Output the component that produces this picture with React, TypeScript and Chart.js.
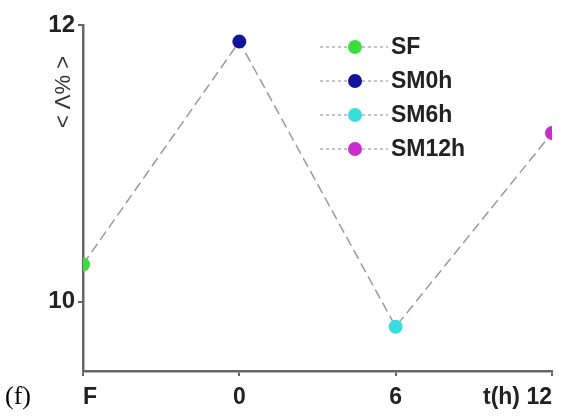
import React, { useEffect, useRef } from "react";
import { Chart, registerables } from "chart.js";

Chart.register(...registerables);

const categories = ["F", "0", "6", "t(h) 12"];
const seriesNames = ["SF", "SM0h", "SM6h", "SM12h"];
const values = [10.27, 11.88, 9.82, 11.22];
const pointColors = ["#3ddc3d", "#14149a", "#38dede", "#cc2ccc"];
const yTickValues = [10, 12];

const SANS = "'Liberation Sans', Arial, sans-serif";

const extrasPlugin = {
  id: "extras",
  afterDraw(chart: any) {
    const ctx = chart.ctx;
    const area = chart.chartArea;
    ctx.save();
    // y-axis title
    ctx.translate(area.left - 19, area.top + 67);
    ctx.rotate(-Math.PI / 2);
    ctx.fillStyle = "#333";
    ctx.font = `22px ${SANS}`;
    ctx.textAlign = "center";
    ctx.textBaseline = "middle";
    ctx.fillText("< Λ% >", 0, 0);
    ctx.restore();

    // legend
    ctx.save();
    const startY = 47;
    const step = 34;
    seriesNames.forEach((name, i) => {
      const y = startY + i * step;
      ctx.strokeStyle = "#b0b0b0";
      ctx.lineWidth = 1.5;
      ctx.setLineDash([3, 3]);
      ctx.beginPath();
      ctx.moveTo(320, y);
      ctx.lineTo(388, y);
      ctx.stroke();
      ctx.setLineDash([]);
      ctx.fillStyle = pointColors[i];
      ctx.beginPath();
      ctx.arc(355, y, 7, 0, Math.PI * 2);
      ctx.fill();
      ctx.fillStyle = "#222";
      ctx.font = `bold 23px ${SANS}`;
      ctx.textAlign = "left";
      ctx.textBaseline = "middle";
      ctx.fillText(name, 391, y + 1);
    });
    ctx.restore();

    // panel label
    ctx.save();
    ctx.fillStyle = "#000";
    ctx.font = "26px 'Liberation Serif', 'Times New Roman', serif";
    ctx.textAlign = "left";
    ctx.textBaseline = "alphabetic";
    ctx.fillText("(f)", 5, 404);
    ctx.restore();
  },
};

export default function App() {
  const ref = useRef<HTMLCanvasElement | null>(null);
  useEffect(() => {
    if (!ref.current) return;
    const chart = new Chart(ref.current, {
      type: "line",
      data: {
        datasets: [
          {
            data: values.map((v, i) => ({ x: i, y: v })),
            borderColor: "#9a9a9a",
            borderWidth: 1.5,
            borderDash: [10, 5],
            pointBackgroundColor: pointColors,
            pointBorderColor: pointColors,
            pointRadius: 7,
            pointBorderWidth: 0,
            tension: 0,
          },
        ],
      },
      options: {
        responsive: false,
        animation: false,
        layout: { padding: { left: 0, top: 25, right: 15, bottom: 0 } },
        plugins: { legend: { display: false }, tooltip: { enabled: false } },
        scales: {
          x: {
            type: "linear",
            min: 0,
            max: categories.length - 1,
            afterBuildTicks: (s: any) => {
              s.ticks = categories.map((_, i) => ({ value: i }));
            },
            afterFit: (s: any) => {
              s.height = 45;
            },
            ticks: {
              callback: (v: any) => categories[v as number],
              color: "#222",
              font: { family: SANS, size: 23, weight: "bold" },
              align: "inner",
              padding: 8,
              maxRotation: 0,
            },
            grid: { drawOnChartArea: false, drawTicks: true, tickLength: 5, color: "#666", lineWidth: 2 },
            border: { color: "#666", width: 2.5 },
          },
          y: {
            type: "linear",
            min: 9.5,
            max: 12,
            afterBuildTicks: (s: any) => {
              s.ticks = yTickValues.map((v) => ({ value: v }));
            },
            afterFit: (s: any) => {
              s.width = 83;
            },
            ticks: {
              color: "#222",
              font: { family: SANS, size: 24, weight: "bold" },
              padding: 3,
            },
            grid: { drawOnChartArea: false, drawTicks: true, tickLength: 5, color: "#666", lineWidth: 2 },
            border: { color: "#666", width: 2.5 },
          },
        },
      },
      plugins: [extrasPlugin],
    });
    return () => chart.destroy();
  }, []);
  return (
    <div style={{ position: "fixed", left: 0, top: 0, width: 567, height: 416, background: "#fff" }}>
      <canvas ref={ref} width={567} height={416} />
    </div>
  );
}
